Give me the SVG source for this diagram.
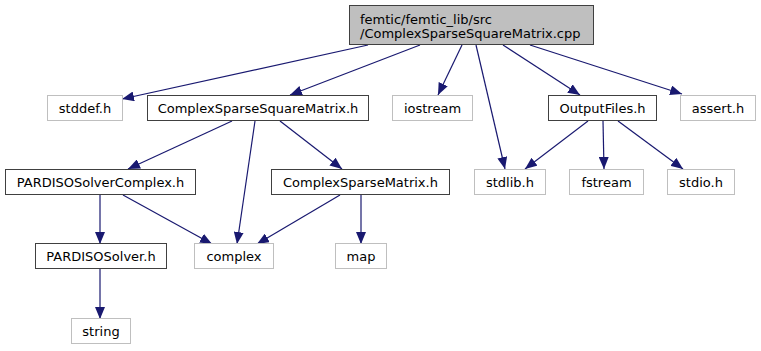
<svg xmlns="http://www.w3.org/2000/svg" width="761" height="351" viewBox="0 0 761 351">
  <style>
    .node rect { stroke-width: 1; }
    .lnk rect { fill: #ffffff; stroke: #404040; }
    .ext rect { fill: #ffffff; stroke: #bfbfbf; }
    .root rect { fill: #bfbfbf; stroke: #404040; }
    text { font-family: "DejaVu Sans", sans-serif; font-size: 13px; fill: #000000; }
    .c { text-anchor: middle; }
    #edges line { stroke: #191970; stroke-width: 1.2; fill: none; marker-end: url(#arrow); }
  </style>
  <defs>
    <marker id="arrow" markerWidth="12" markerHeight="10" refX="12" refY="5" orient="auto" markerUnits="userSpaceOnUse">
      <path d="M0,0 L12,5 L0,10 Z" fill="#191970"/>
    </marker>
  </defs>
  <rect width="761" height="351" fill="#ffffff"/>

  <!-- dependency arrows, include direction -->
  <g id="edges">
    <line x1="368" y1="45" x2="122" y2="99"/>
    <line x1="420" y1="45" x2="290" y2="95"/>
    <line x1="462" y1="45" x2="438" y2="95"/>
    <line x1="476" y1="45" x2="505" y2="169"/>
    <line x1="503" y1="45" x2="580" y2="95"/>
    <line x1="530" y1="45" x2="682" y2="94"/>

    <line x1="232" y1="121" x2="128" y2="169"/>
    <line x1="255" y1="121" x2="237" y2="244"/>
    <line x1="280" y1="121" x2="342" y2="169"/>

    <line x1="100" y1="195" x2="100" y2="244"/>
    <line x1="123" y1="195" x2="212" y2="244"/>
    <line x1="340" y1="195" x2="257" y2="244"/>
    <line x1="361" y1="195" x2="361" y2="244"/>
    <line x1="100" y1="269" x2="100" y2="319"/>

    <line x1="588" y1="121" x2="525" y2="169"/>
    <line x1="603" y1="121" x2="604" y2="169"/>
    <line x1="618" y1="121" x2="683" y2="169"/>
  </g>

  <g id="node-root" class="node root">
    <rect x="349.5" y="5.5" width="244" height="39"/>
    <text x="360" y="23.5">femtic/femtic_lib/src</text>
    <text x="360" y="38">/ComplexSparseSquareMatrix.cpp</text>
  </g>

  <g id="node-stddef" class="node ext">
    <rect x="47.5" y="95.5" width="75" height="25"/>
    <text class="c" x="85" y="112.5">stddef.h</text>
  </g>
  <g id="node-cssm" class="node lnk">
    <rect x="147.5" y="95.5" width="221" height="25"/>
    <text class="c" x="258" y="112.5">ComplexSparseSquareMatrix.h</text>
  </g>
  <g id="node-iostream" class="node ext">
    <rect x="392.5" y="95.5" width="80" height="25"/>
    <text class="c" x="432.5" y="112.5">iostream</text>
  </g>
  <g id="node-outputfiles" class="node lnk">
    <rect x="548.5" y="95.5" width="108" height="25"/>
    <text class="c" x="602.5" y="112.5">OutputFiles.h</text>
  </g>
  <g id="node-assert" class="node ext">
    <rect x="680.5" y="95.5" width="75" height="25"/>
    <text class="c" x="718" y="112.5">assert.h</text>
  </g>

  <g id="node-pardisocomplex" class="node lnk">
    <rect x="5.5" y="169.5" width="190" height="25"/>
    <text class="c" x="100.5" y="186.5">PARDISOSolverComplex.h</text>
  </g>
  <g id="node-csm" class="node lnk">
    <rect x="271.5" y="169.5" width="178" height="25"/>
    <text class="c" x="360.5" y="186.5">ComplexSparseMatrix.h</text>
  </g>
  <g id="node-stdlib" class="node ext">
    <rect x="474.5" y="169.5" width="71" height="25"/>
    <text class="c" x="510" y="186.5">stdlib.h</text>
  </g>
  <g id="node-fstream" class="node ext">
    <rect x="569.5" y="169.5" width="74" height="25"/>
    <text class="c" x="606.5" y="186.5">fstream</text>
  </g>
  <g id="node-stdio" class="node ext">
    <rect x="667.5" y="169.5" width="67" height="25"/>
    <text class="c" x="701" y="186.5">stdio.h</text>
  </g>

  <g id="node-pardiso" class="node lnk">
    <rect x="35.5" y="243.5" width="131" height="25"/>
    <text class="c" x="101" y="260.5">PARDISOSolver.h</text>
  </g>
  <g id="node-complex" class="node ext">
    <rect x="194.5" y="243.5" width="79" height="25"/>
    <text class="c" x="234" y="260.5">complex</text>
  </g>
  <g id="node-map" class="node ext">
    <rect x="335.5" y="243.5" width="51" height="25"/>
    <text class="c" x="361" y="260.5">map</text>
  </g>

  <g id="node-string" class="node ext">
    <rect x="71.5" y="318.5" width="59" height="25"/>
    <text class="c" x="101" y="335.5">string</text>
  </g>
</svg>
